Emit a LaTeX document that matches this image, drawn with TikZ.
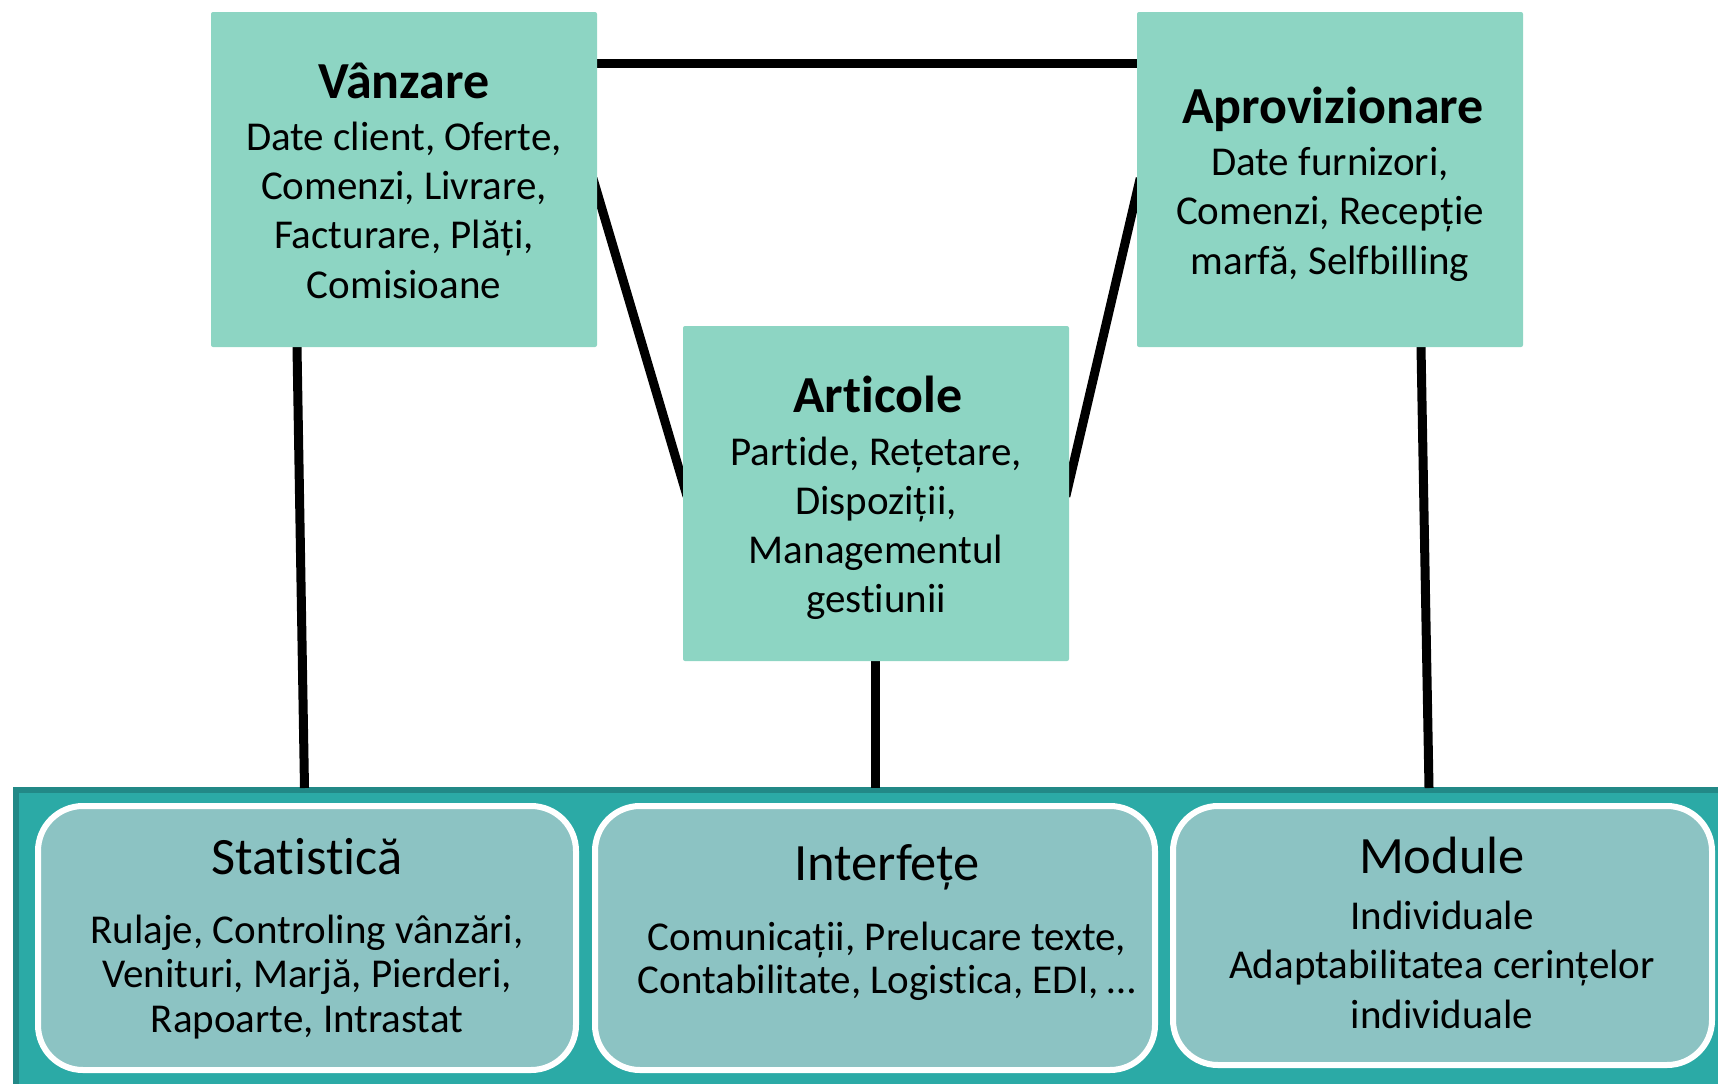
\documentclass[tikz,border=0pt]{standalone}
\usepackage{fontspec}
\setmainfont{Carlito}[Ligatures=NoCommon]
\usetikzlibrary{calc}
\definecolor{topfill}{HTML}{8DD5C3}
\definecolor{botfill}{HTML}{8CC3C3}
\definecolor{bandfill}{HTML}{2BAAA6}
\definecolor{bandedge}{HTML}{228987}
\pgfdeclarelayer{bg}
\pgfsetlayers{bg,main}
\tikzset{
  topbox/.style={rectangle, fill=topfill, rounded corners=2pt, inner sep=0pt},
  botbox/.style={rectangle, fill=botfill, draw=white, line width=6pt, rounded corners=45pt, inner sep=0pt},
  ttl/.style={anchor=base, inner sep=0pt, font=\fontsize{52}{60}\selectfont\bfseries},
  bttl/.style={anchor=base, inner sep=0pt, font=\fontsize{52.5}{60}\selectfont},
  txt/.style={anchor=base, inner sep=0pt, font=\fontsize{41}{49}\selectfont},
  conn/.style={draw=black, line width=9pt},
}
\begin{document}
\begin{tikzpicture}[x=1pt,y=-1pt]
\useasboundingbox (0,0) rectangle (1718,1084);

% top boxes
\node[topbox, minimum width=386pt, minimum height=335pt] (v) at (404,179.5) {};
\node[topbox, minimum width=386pt, minimum height=335pt] (p) at (1330,179.5) {};
\node[topbox, minimum width=386pt, minimum height=335pt] (a) at (876,493.5) {};

% bottom boxes
\node[botbox, minimum width=538pt, minimum height=264pt] (s) at (307,938) {};
\node[botbox, minimum width=560pt, minimum height=264pt] (i) at (875,938) {};
\node[botbox, minimum width=539pt, minimum height=259pt] (m) at (1442.5,935.5) {};

% texts: Vanzare
\node[ttl] (vt) at (404,98) {Vânzare};
\node[txt] (v1) at (404,150) {Date client, Oferte,};
\node[txt] (v2) at (404,199.3) {Comenzi, Livrare,};
\node[txt] (v3) at (404,248.6) {Facturare, Plăți,};
\node[txt] (v4) at (404,298) {Comisioane};

% Aprovizionare
\node[ttl] (pt) at (1333,123) {Aprovizionare};
\node[txt] (p1) at (1330,175) {Date furnizori,};
\node[txt] (p2) at (1330,224.5) {Comenzi, Recepție};
\node[txt] (p3) at (1330,274) {marfă, Selfbilling};

% Articole
\node[ttl] (at) at (878,412) {Articole};
\node[txt] (a1) at (876,465) {Partide, Rețetare,};
\node[txt] (a2) at (876,514) {Dispoziții,};
\node[txt] (a3) at (876,563) {Managementul};
\node[txt] (a4) at (876,612) {gestiunii};

% Statistica
\node[bttl] (st) at (307,874) {Statistică};
\node[txt] (s1) at (307,943) {Rulaje, Controling vânzări,};
\node[txt] (s2) at (307,987.5) {Venituri, Marjă, Pierderi,};
\node[txt] (s3) at (307,1032) {Rapoarte, Intrastat};

% Interfete
\node[bttl] (it) at (887,880) {Interfețe};
\node[txt] (i1) at (887,950) {Comunicații, Prelucare texte,};
\node[txt] (i2) at (887,993) {Contabilitate, Logistica, EDI, …};

% Module
\node[bttl] (mt) at (1442,873) {Module};
\node[txt] (m1) at (1442,929) {Individuale};
\node[txt] (m2) at (1442,978.5) {Adaptabilitatea cerințelor};
\node[txt] (m3) at (1442,1028) {individuale};

\begin{pgfonlayer}{bg}
  % band
  \fill[bandedge] (12.5,786.5) rectangle (1718,1084);
  \fill[bandfill] (18.5,792.5) rectangle (1718,1084);
  % connectors
  \draw[conn, shorten <=-12pt, shorten >=-12pt] ($(v.north east)+(0,51.5)$) -- ($(p.north west)+(0,51.5)$);
  \draw[conn, shorten <=-15pt, shorten >=-15pt] ($(v.north east)+(0,181)$) -- ($(a.north west)+(0,156)$);
  \draw[conn, shorten <=-15pt, shorten >=-15pt] ($(p.north west)+(0,181)$) -- ($(a.north east)+(0,156)$);
  \draw[conn, shorten <=-10pt] ($(v.south)+(-107,0)$) -- ($(s.north)+(-2.5,-15)$);
  \draw[conn, shorten <=-10pt] ($(a.south)+(-1,0)$) -- ($(i.north)+(0,-15)$);
  \draw[conn, shorten <=-10pt] ($(p.south)+(91,0)$) -- ($(m.north)+(-13.5,-15)$);
\end{pgfonlayer}
\end{tikzpicture}
\end{document}
